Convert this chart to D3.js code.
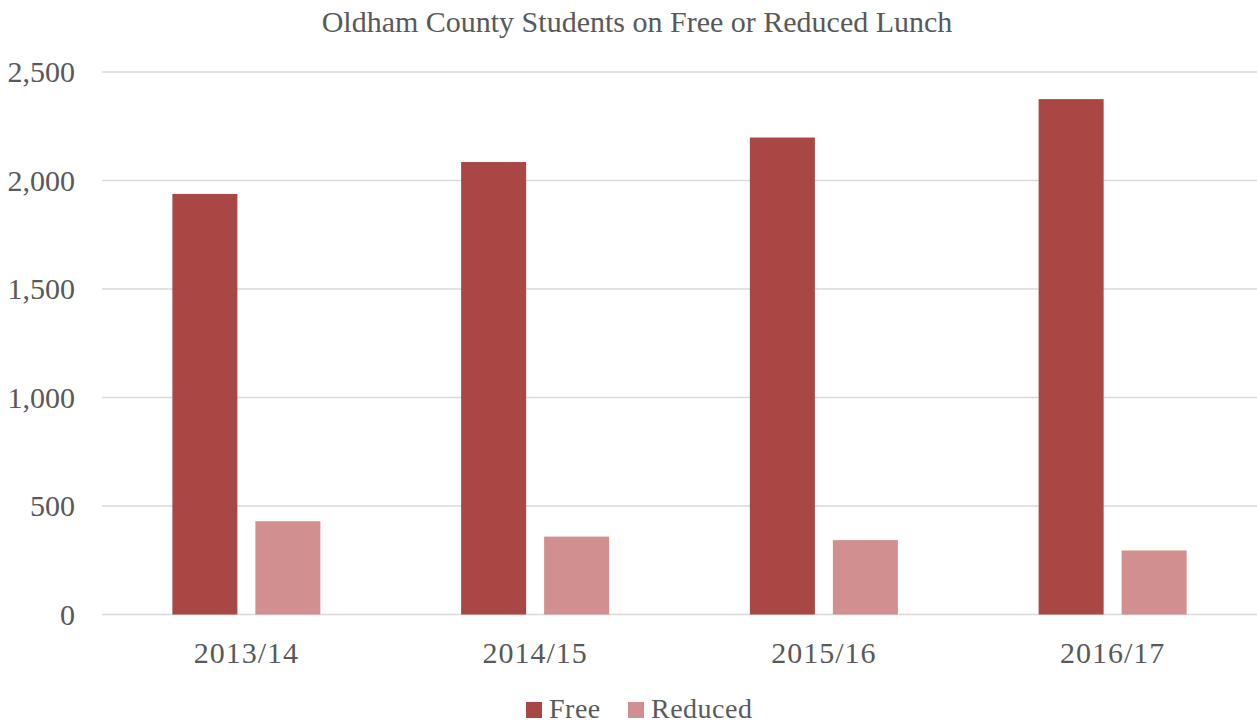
<!DOCTYPE html>
<html>
<head>
<meta charset="utf-8">
<script src="https://cdn.jsdelivr.net/npm/d3@7"></script>
<style>
  body { margin: 0; background: #fff; }
  svg text { font-family: "Liberation Serif", "DejaVu Serif", serif; fill: #595959; }
</style>
</head>
<body>
<svg id="chart" width="1257" height="725"></svg>
<script>
const years = ['2013/14', '2014/15', '2015/16', '2016/17']
const seriesNames = ['Free', 'Reduced']
const freeValues = [1938, 2085, 2198, 2375]
const reducedValues = [430, 359, 343, 295]
const yTicks = [0, 500, 1000, 1500, 2000, 2500]
const colors = ['#a84744', '#d28f8f']

const svg = d3.select('#chart')
const margin = { top: 72, right: 0, bottom: 110.5, left: 102 }
const width = 1257 - margin.left - margin.right
const height = 725 - margin.top - margin.bottom

const groupW = 148
const x = d3.scaleBand().domain(years).range([margin.left, margin.left + width])
const x1 = d3.scaleBand().domain(seriesNames).range([0, groupW]).paddingInner(18 / 83)
const y = d3.scaleLinear().domain([0, 2500]).range([margin.top + height, margin.top])

// gridlines
svg.append('g').selectAll('line').data(yTicks).enter().append('line')
    .attr('x1', margin.left).attr('x2', margin.left + width)
    .attr('y1', d => y(d)).attr('y2', d => y(d))
    .attr('stroke', '#d9d9d9').attr('stroke-width', 1.5)

// y axis labels
const yAxis = d3.axisLeft(y).tickValues(yTicks).tickFormat(d3.format(',')).tickSize(0).tickPadding(27)
svg.append('g').attr('transform', 'translate(' + margin.left + ',0)').call(yAxis)
  .call(g => g.select('.domain').remove())
  .selectAll('text').style('font-size', '30px').attr('fill', '#595959')

// x axis labels
const xAxis = d3.axisBottom(x).tickSize(0).tickPadding(27)
svg.append('g').attr('transform', 'translate(0,' + (margin.top + height) + ')').call(xAxis)
  .call(g => g.select('.domain').remove())
  .selectAll('text').style('font-size', '30px').style('letter-spacing', '1px').attr('fill', '#595959')

// bars
const rows = years.map((yr, i) => ({ year: yr, values: [freeValues[i], reducedValues[i]] }))
const groups = svg.append('g').selectAll('g').data(rows).enter().append('g')
    .attr('transform', d => 'translate(' + (x(d.year) + (x.bandwidth() - groupW) / 2) + ',0)')
groups.selectAll('rect').data(d => d.values.map((v, j) => ({ key: seriesNames[j], v, j })))
  .enter().append('rect')
    .attr('x', d => x1(d.key))
    .attr('width', x1.bandwidth())
    .attr('y', d => y(d.v))
    .attr('height', d => y(0) - y(d.v))
    .attr('fill', d => colors[d.j])

// title
svg.append('text')
    .attr('x', 637).attr('y', 32)
    .attr('text-anchor', 'middle')
    .style('font-size', '30px')
    .text('Oldham County Students on Free or Reduced Lunch')

// legend
const legendX = [526, 628]
const legend = svg.append('g').selectAll('g').data(seriesNames).enter().append('g')
    .attr('transform', (d, i) => 'translate(' + legendX[i] + ',702)')
legend.append('rect').attr('width', 16).attr('height', 16).attr('fill', (d, i) => colors[i])
legend.append('text').attr('x', 23).attr('y', 16).style('font-size', '28px').style('letter-spacing', '0.5px').text(d => d)
</script>
</body>
</html>
